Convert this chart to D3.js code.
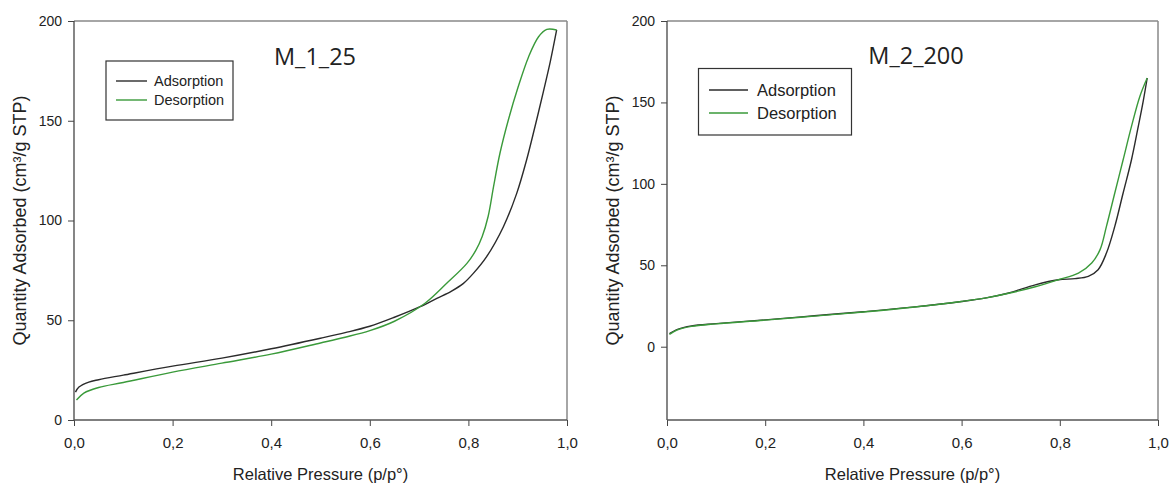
<!DOCTYPE html>
<html>
<head>
<meta charset="utf-8">
<script src="https://cdn.jsdelivr.net/npm/d3@7"></script>
<style>
  body { margin: 0; background: #fff; }
  svg { display: block; }
  text { font-family: "Liberation Sans", Arial, sans-serif; fill: #222; }
</style>
</head>
<body>
<svg id="chart" width="1169" height="486"></svg>
<script>
// Axis ticks
const xTicks = [0, 0.2, 0.4, 0.6, 0.8, 1.0];
const m125YTicks = [0, 50, 100, 150, 200];
const m2200YTicks = [0, 50, 100, 150, 200];
const seriesNames = ["Adsorption", "Desorption"];

// M_1_25 isotherm, [p/p°, quantity]
const m125Adsorption = [
  [0.003, 14], [0.01, 16.5], [0.03, 19], [0.05, 20.2], [0.1, 22.5], [0.2, 27],
  [0.3, 31], [0.4, 35.7], [0.5, 41], [0.55, 43.8], [0.6, 47], [0.65, 51.5],
  [0.702, 56.8], [0.736, 61], [0.765, 64.5], [0.79, 68.5], [0.81, 73.5],
  [0.837, 81.9], [0.871, 96.9], [0.898, 113.6], [0.918, 130.3], [0.935, 147],
  [0.952, 164.5], [0.966, 179.5], [0.979, 195.5]
];
const m125Desorption = [
  [0.005, 10], [0.02, 13.5], [0.05, 16.3], [0.1, 18.8], [0.2, 24], [0.3, 28.5],
  [0.4, 33], [0.5, 38.6], [0.55, 41.5], [0.6, 44.8], [0.65, 49.5], [0.712, 58.5],
  [0.756, 68.5], [0.797, 78.5], [0.815, 85], [0.828, 92], [0.84, 102], [0.851, 117],
  [0.864, 133.7], [0.881, 150.4], [0.901, 167], [0.922, 182], [0.942, 192],
  [0.959, 195.8], [0.979, 195.5]
];

// M_2_200 isotherm
const m2200Adsorption = [
  [0.005, 8], [0.02, 10.5], [0.05, 12.8], [0.1, 14.2], [0.2, 16.5], [0.3, 19],
  [0.4, 21.5], [0.5, 24.3], [0.6, 27.8], [0.65, 30], [0.696, 33], [0.75, 38],
  [0.797, 41.1], [0.831, 41.8], [0.858, 43.2], [0.878, 47.3], [0.895, 57.5],
  [0.912, 73.9], [0.929, 94.4], [0.946, 114.8], [0.959, 134], [0.97, 151],
  [0.978, 165]
];
const m2200Desorption = [
  [0.005, 7.6], [0.02, 10.2], [0.05, 12.5], [0.1, 14], [0.2, 16.3], [0.3, 18.8],
  [0.4, 21.3], [0.5, 24.2], [0.6, 27.8], [0.65, 30], [0.696, 32.8], [0.75, 36.8],
  [0.797, 41.1], [0.838, 45.2], [0.865, 51.4], [0.882, 59.6], [0.895, 73.9],
  [0.912, 94.4], [0.929, 114.8], [0.946, 135.3], [0.963, 153.7], [0.978, 165]
];

const colors = ["#2b2b2b", "#3a9a3a"];
const svg = d3.select("#chart");

const panels = [
  {
    title: "M_1_25", ads: m125Adsorption, des: m125Desorption,
    yDomain: [0, 200], yTicks: m125YTicks,
    left: 74, right: 567, top: 21, bottom: 420,
    titleX: 315, titleY: 65,
    yLabelX: 26,
    legend: { x: 106, y: 61, w: 127, h: 59, lx1: 116, lx2: 147, tx: 154, rows: [81, 100], size: 14.5 }
  },
  {
    title: "M_2_200", ads: m2200Adsorption, des: m2200Desorption,
    yDomain: [-45, 200], yTicks: m2200YTicks,
    left: 667, right: 1158, top: 21, bottom: 420,
    titleX: 916, titleY: 64,
    yLabelX: 619,
    legend: { x: 698.5, y: 68.5, w: 153, h: 66.5, lx1: 709, lx2: 748, tx: 757, rows: [90, 113], size: 16.5 }
  }
];

panels.forEach(p => {
  const x = d3.scaleLinear().domain([0, 1]).range([p.left, p.right]);
  const y = d3.scaleLinear().domain(p.yDomain).range([p.bottom, p.top]);

  // X-Axis
  svg.append("g")
    .attr("transform", `translate(0,${p.bottom})`)
    .call(d3.axisBottom(x).tickValues(xTicks).tickSize(6).tickPadding(11)
      .tickFormat(d => d3.format(".1f")(d).replace(".", ",")))
    .call(g => g.select(".domain").remove())
    .call(g => g.selectAll("line").attr("stroke", "#444"))
    .call(g => g.selectAll("text").attr("font-size", 15).attr("font-family", "Liberation Sans, Arial").attr("fill", "#222"));

  // Y-Axis
  svg.append("g")
    .attr("transform", `translate(${p.left},0)`)
    .call(d3.axisLeft(y).tickValues(p.yTicks).tickSize(6).tickPadding(6))
    .call(g => g.select(".domain").remove())
    .call(g => g.selectAll("line").attr("stroke", "#444"))
    .call(g => g.selectAll("text").attr("font-size", 14).attr("font-family", "Liberation Sans, Arial").attr("fill", "#222"));

  // Frame
  svg.append("line").attr("x1", p.left).attr("x2", p.right).attr("y1", p.top).attr("y2", p.top)
    .attr("stroke", "#888").attr("stroke-width", 1.5);
  svg.append("line").attr("x1", p.right).attr("x2", p.right).attr("y1", p.top).attr("y2", p.bottom)
    .attr("stroke", "#888").attr("stroke-width", 1.5);
  svg.append("line").attr("x1", p.left).attr("x2", p.left).attr("y1", p.top).attr("y2", p.bottom)
    .attr("stroke", "#444").attr("stroke-width", 1.3);
  svg.append("line").attr("x1", p.left).attr("x2", p.right).attr("y1", p.bottom).attr("y2", p.bottom)
    .attr("stroke", "#555").attr("stroke-width", 1.5);

  // Curves
  const line = d3.line().x(d => x(d[0])).y(d => y(d[1])).curve(d3.curveCatmullRom.alpha(0.5));
  [p.ads, p.des].forEach((s, i) => {
    svg.append("path").datum(s)
      .attr("d", line)
      .attr("fill", "none")
      .attr("stroke", colors[i])
      .attr("stroke-width", 1.4);
  });

  // Title
  svg.append("text")
    .attr("x", p.titleX).attr("y", p.titleY)
    .attr("text-anchor", "middle")
    .style("font-family", "'Open Sans', sans-serif")
    .attr("font-size", 23.5)
    .attr("fill", "#111")
    .text(p.title);

  // Legend
  const lg = p.legend;
  svg.append("rect")
    .attr("x", lg.x).attr("y", lg.y).attr("width", lg.w).attr("height", lg.h)
    .attr("fill", "#fff").attr("stroke", "#333").attr("stroke-width", 1.2);
  seriesNames.forEach((name, i) => {
    svg.append("line")
      .attr("x1", lg.lx1).attr("x2", lg.lx2).attr("y1", lg.rows[i]).attr("y2", lg.rows[i])
      .attr("stroke", colors[i]).attr("stroke-width", 1.4);
    svg.append("text")
      .attr("x", lg.tx).attr("y", lg.rows[i]).attr("dy", "0.36em")
      .attr("font-size", lg.size)
      .text(name);
  });

  // Axis labels
  svg.append("text")
    .attr("x", (p.left + p.right) / 2).attr("y", 480)
    .attr("text-anchor", "middle")
    .attr("font-size", 16.5)
    .text("Relative Pressure (p/p°)");

  svg.append("text")
    .attr("transform", `translate(${p.yLabelX},${(p.top + p.bottom) / 2}) rotate(-90)`)
    .attr("text-anchor", "middle")
    .attr("font-size", 18)
    .text("Quantity Adsorbed (cm³/g STP)");
});
</script>
</body>
</html>
